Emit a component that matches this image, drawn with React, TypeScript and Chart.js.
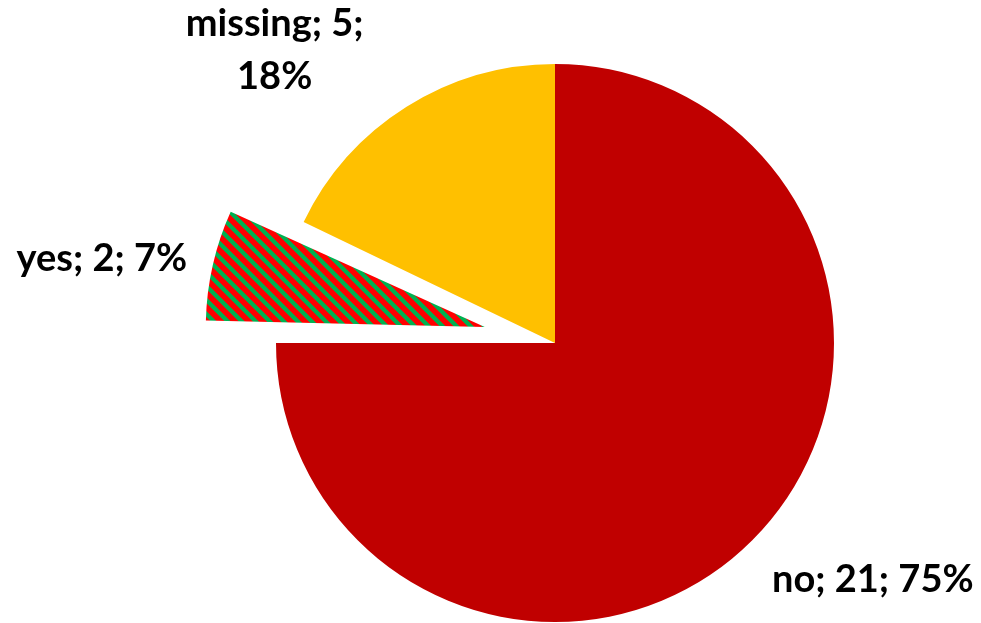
import React, { useEffect, useRef } from "react";
import { Chart, registerables } from "chart.js";

Chart.register(...registerables);

// ---- data ----
const categories: string[] = ["no", "yes", "missing"];
const counts: number[] = [21, 2, 5];

// ---- styling ----
const sliceColors = ["#C00000", "PATTERN", "#FFC000"];
const patternRed = "#FF0000";
const patternGreen = "#00B050";
const explodePx = [0, 72, 0];
const pieRadius = 279;
// label placement: polar position (relative to slice centre) + wrap width
const labelPlacement = [
  { angleDeg: 36.5, dist: 1.417, maxWidth: 400 },
  { angleDeg: -169.7, dist: 1.395, maxWidth: 400 },
  { angleDeg: -133.6, dist: 1.457, maxWidth: 185 },
];
const labelFont = "bold 38px Lato, 'Open Sans', sans-serif";
const lineHeight = 53;
const capHeight = 27;

function makePattern(ctx: CanvasRenderingContext2D): CanvasPattern | string {
  const size = 14;
  const c = document.createElement("canvas");
  c.width = size;
  c.height = size;
  const cx = c.getContext("2d");
  if (!cx) return patternRed;
  cx.fillStyle = patternRed;
  cx.fillRect(0, 0, size, size);
  cx.fillStyle = patternGreen;
  for (let y = 0; y < size; y++) {
    for (let x = 0; x < size; x++) {
      const d = (((x - y) % size) + size) % size;
      if (d < 6) cx.fillRect(x, y, 1, 1);
    }
  }
  return ctx.createPattern(c, "repeat") || patternRed;
}

function wrapText(ctx: CanvasRenderingContext2D, text: string, maxWidth: number): string[] {
  const words = text.split(" ");
  const lines: string[] = [];
  let cur = "";
  for (const w of words) {
    const test = cur ? cur + " " + w : w;
    if (cur && ctx.measureText(test).width > maxWidth) {
      lines.push(cur);
      cur = w;
    } else {
      cur = test;
    }
  }
  if (cur) lines.push(cur);
  return lines;
}

const explodeFixPlugin = {
  id: "explodeFix",
  beforeDatasetsDraw(chart: any) {
    const meta = chart.getDatasetMeta(0);
    meta.data.forEach((el: any) => {
      const off = el.options?.offset || 0;
      if (off > 0) {
        const eff = off / 4;
        const circ = el.circumference;
        const fix = 1 - Math.sin(Math.min(Math.PI, circ || 0));
        el.outerRadius = pieRadius - eff * fix;
      }
    });
  },
};

const labelPlugin = {
  id: "sliceLabels",
  afterDatasetsDraw(chart: any) {
    const ctx: CanvasRenderingContext2D = chart.ctx;
    const meta = chart.getDatasetMeta(0);
    const total = counts.reduce((a, b) => a + b, 0);
    ctx.save();
    ctx.font = labelFont;
    ctx.fillStyle = "#000000";
    ctx.textAlign = "center";
    ctx.textBaseline = "alphabetic";
    meta.data.forEach((el: any, i: number) => {
      const mid = (el.startAngle + el.endAngle) / 2;
      const off = explodePx[i];
      const cx = el.x + Math.cos(mid) * off;
      const cy = el.y + Math.sin(mid) * off;
      const p = labelPlacement[i];
      const a = (p.angleDeg * Math.PI) / 180;
      const lx = cx + Math.cos(a) * p.dist * pieRadius;
      const ly = cy + Math.sin(a) * p.dist * pieRadius;
      const pct = Math.round((counts[i] / total) * 100);
      const text = `${categories[i]}; ${counts[i]}; ${pct}%`;
      const lines = wrapText(ctx, text, p.maxWidth);
      const first = ly - ((lines.length - 1) * lineHeight) / 2 + capHeight / 2;
      lines.forEach((ln, k) => ctx.fillText(ln, lx, first + k * lineHeight));
    });
    ctx.restore();
  },
};

export default function App() {
  const ref = useRef<HTMLCanvasElement | null>(null);
  useEffect(() => {
    const canvas = ref.current;
    if (!canvas) return;
    const ctx = canvas.getContext("2d");
    if (!ctx) return;
    const pattern = makePattern(ctx);
    const bg = sliceColors.map((c) => (c === "PATTERN" ? pattern : c));
    const chart = new Chart(canvas, {
      type: "pie",
      data: {
        labels: categories,
        datasets: [
          {
            data: counts,
            backgroundColor: bg as any,
            borderWidth: 0,
            offset: explodePx.map((o) => o * 4),
            radius: pieRadius,
          } as any,
        ],
      },
      options: {
        animation: false,
        responsive: false,
        maintainAspectRatio: false,
        layout: { padding: { left: 129, top: 63, right: 0, bottom: 0 } },
        plugins: {
          legend: { display: false },
          tooltip: { enabled: false },
          title: { display: false },
        },
      } as any,
      plugins: [explodeFixPlugin, labelPlugin],
    });
    return () => chart.destroy();
  }, []);
  return (
    <div style={{ position: "absolute", left: 0, top: 0, width: 981, height: 623, background: "#fff" }}>
      <canvas ref={ref} width={981} height={623} style={{ display: "block" }} />
    </div>
  );
}
